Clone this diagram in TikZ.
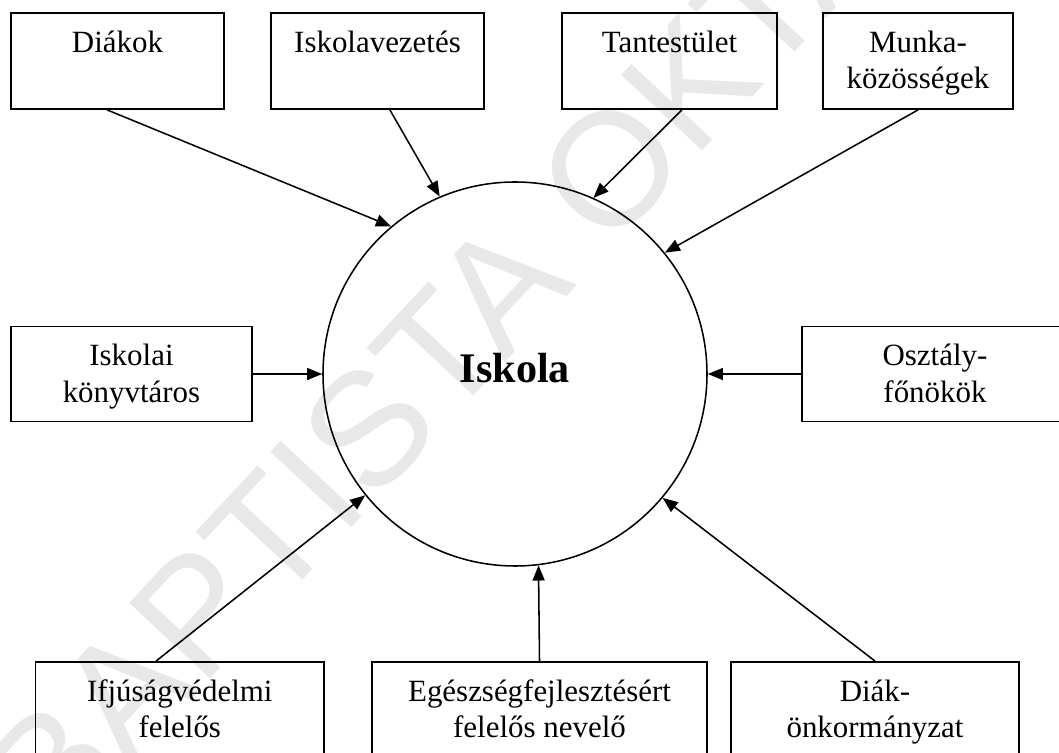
\documentclass[tikz,border=0pt]{standalone}
\usepackage{fontspec}
\setmainfont{Liberation Serif}
\newfontfamily\wmfont{Liberation Sans}
\usetikzlibrary{positioning,arrows.meta}
\newcommand{\tp}{\rule{0pt}{8mm}}
\begin{document}
\begin{tikzpicture}[>={Triangle[length=3.8mm,width=3mm]},
    box/.style={draw,line width=1.3pt,minimum height=2.4cm,inner sep=0pt},
    lbl/.style={align=center,inner sep=0pt,font=\fontsize{22}{26}\selectfont},
    conn/.style={line width=1.1pt}]
    \useasboundingbox (0,0) rectangle (26.475,18.825);
    \clip (0,0) rectangle (26.475,18.825);
    \node[rotate=47,anchor=base west,text=black!9,inner sep=0pt,font=\wmfont\fontsize{114.5}{115}\selectfont] (wm) at (1.375,-2.32) {BAPTISTA OKTAT};
    \node[draw,circle,line width=1.1pt,minimum size=9.6cm,inner sep=0pt,text height=4.5mm,font=\fontsize{30}{36}\selectfont\bfseries] (iskola) at (12.875,9.475) {Iskola};
    \node[box,minimum width=5.325cm] (diakok) at (2.9375,17.3) {};
    \node[box,minimum width=5.325cm] (vezetes) at (9.4375,17.3) {};
    \node[box,minimum width=5.375cm] (tantestulet) at (16.7375,17.3) {};
    \node[box,minimum width=4.75cm] (munka) at (22.95,17.3) {};
    \node[box,minimum width=6.025cm,minimum height=2.375cm] (konyvtaros) at (3.2875,9.475) {};
    \node[box,minimum width=6.65cm,minimum height=2.375cm] (ofo) at (23.375,9.475) {};
    \node[box,minimum width=7.21cm] (ifjusag) at (4.494,1.075) {};
    \node[box,minimum width=8.375cm] (egeszseg) at (13.4875,1.075) {};
    \node[box,minimum width=7.2cm] (dok) at (21.875,1.075) {};
    \node[lbl,below=0.2cm of diakok.north] (diakokt) {\tp Diákok};
    \node[lbl,below=0.2cm of vezetes.north] (vezetest) {\tp Iskolavezetés};
    \node[lbl,below=0.2cm of tantestulet.north] (tantestuletet) {\tp Tantestület};
    \node[lbl,below=0.2cm of munka.north] (munkat) {\tp Munka-\\közösségek};
    \node[lbl,below=0.2cm of konyvtaros.north] (konyvtarost) {\tp Iskolai\\könyvtáros};
    \node[lbl,below=0.2cm of ofo.north] (ofot) {\tp Osztály-\\főnökök};
    \node[lbl,below=0.2cm of ifjusag.north] (ifjusagt) {\tp Ifjúságvédelmi\\felelős};
    \node[lbl,below=0.2cm of egeszseg.north] (egeszsegt) {\tp Egészségfejlesztésért\\felelős nevelő};
    \node[lbl,below=0.2cm of dok.north] (dokt) {\tp Diák-\\önkormányzat};
    \foreach \n/\dx/\a in {diakok/-0.26/130.6,vezetes/0.31/113.6,tantestulet/0.31/66.4,munka/0/39.5}
    \draw[conn,->] ([xshift=\dx cm]\n.south)--(iskola.\a);
    \foreach \n in {konyvtaros,ofo}
    \draw[conn,->] (\n)--(iskola);
    \foreach \n/\dx/\a in {ifjusag/-0.594/219.5,egeszseg/0/277,dok/0/320.5}
    \draw[conn,->] ([xshift=\dx cm]\n.north)--(iskola.\a);
\end{tikzpicture}
\end{document}
